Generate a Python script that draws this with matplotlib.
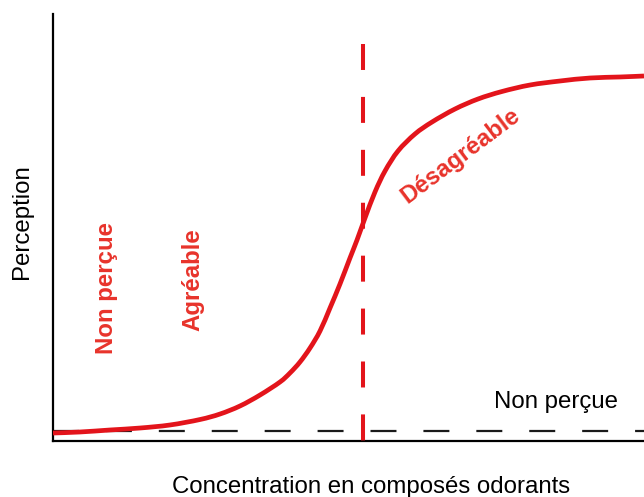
import matplotlib
matplotlib.use("Agg")
import matplotlib.pyplot as plt
import numpy as np
from matplotlib.path import Path
from matplotlib.patches import PathPatch

plt.rcParams['font.family'] = ['Liberation Sans', 'DejaVu Sans']
plt.rcParams['lines.scale_dashes'] = False

# Perception curve (arbitrary units)
concentration = [0.00, 4.57, 9.64, 14.72, 19.80, 24.87, 28.26, 31.64, 35.03,
                 38.41, 40.10, 41.79, 43.49, 45.18, 46.87, 48.56, 50.25, 51.44,
                 52.79, 54.48, 56.18, 58.38, 61.25, 64.13, 68.02, 71.91, 75.97,
                 80.71, 85.79, 90.86, 95.94, 100.0]
perception = [1.87, 2.11, 2.58, 3.04, 3.75, 5.03, 6.32, 8.20, 10.77,
              13.82, 15.93, 18.50, 21.78, 25.76, 31.15, 36.77, 42.86, 47.07,
              52.22, 58.31, 63.23, 67.92, 71.90, 74.70, 77.75, 80.09, 81.85,
              83.37, 84.31, 85.01, 85.25, 85.48]
threshold_x = 52.5        # vertical red dashed line
threshold_top = 93.0
baseline_y = 2.3          # black dashed line

labels = {
    "non_percue_low": "Non perçue",
    "agreable": "Agréable",
    "desagreable": "Désagréable",
    "non_percue": "Non perçue",
}
xlabel = "Concentration en composés odorants"
ylabel = "Perception"

RED = "#e3141b"
TXT_RED = "#e8332b"


def smooth_path(xs, ys):
    """Catmull-Rom through the points, expressed as cubic Bezier segments."""
    p = np.column_stack([xs, ys]).astype(float)
    n = len(p)
    verts = [p[0]]
    codes = [Path.MOVETO]
    for i in range(n - 1):
        p0 = p[i - 1] if i > 0 else p[i]
        p1 = p[i]
        p2 = p[i + 1]
        p3 = p[i + 2] if i + 2 < n else p[i + 1]
        c1 = p1 + (p2 - p0) / 6.0
        c2 = p2 - (p3 - p1) / 6.0
        verts += [c1, c2, p2]
        codes += [Path.CURVE4] * 3
    return Path(verts, codes)


fig = plt.figure(figsize=(6.44, 4.97), dpi=100)
ax = fig.add_axes([53/644, 56/497, 1 - 53/644, (441-14)/497])
ax.set_xlim(0, 100)
ax.set_ylim(0, 100)

ax.plot([0, 100], [baseline_y, baseline_y], color="#1a1a1a", lw=1.6,
        dashes=(18.7, 19.4), zorder=2)
ax.plot([threshold_x, threshold_x], [threshold_top, 0], color=RED, lw=2.9,
        dashes=(18.7, 19.4), zorder=3)
ax.add_patch(PathPatch(smooth_path(concentration, perception), facecolor='none',
                       edgecolor=RED, lw=3.4, joinstyle='round',
                       capstyle='butt', zorder=4))

for s in ['top', 'right']:
    ax.spines[s].set_visible(False)
for s in ['left', 'bottom']:
    ax.spines[s].set_linewidth(1.6)
    ax.spines[s].set_color('black')
ax.set_xticks([])
ax.set_yticks([])

FS = 17.3
ax.text(9.1, 35.8, labels["non_percue_low"], rotation=90, color=TXT_RED,
        fontsize=FS, fontweight='bold', ha='center', va='center')
ax.text(23.7, 37.7, labels["agreable"], rotation=90, color=TXT_RED,
        fontsize=FS, fontweight='bold', ha='center', va='center')
ax.text(69.0, 66.8, labels["desagreable"], rotation=37, color=TXT_RED,
        fontsize=FS, fontweight='bold', ha='center', va='center',
        rotation_mode='anchor')
ax.text(85.1, 9.1, labels["non_percue"], color='black', fontsize=FS,
        ha='center', va='center')

fig.text(371/644, 1 - 487/497, xlabel, fontsize=FS, ha='center', va='center')
fig.text(22/644, 1 - 222/497, ylabel, fontsize=FS, rotation=90,
         ha='center', va='center')

fig.savefig("out.png", dpi=100)
